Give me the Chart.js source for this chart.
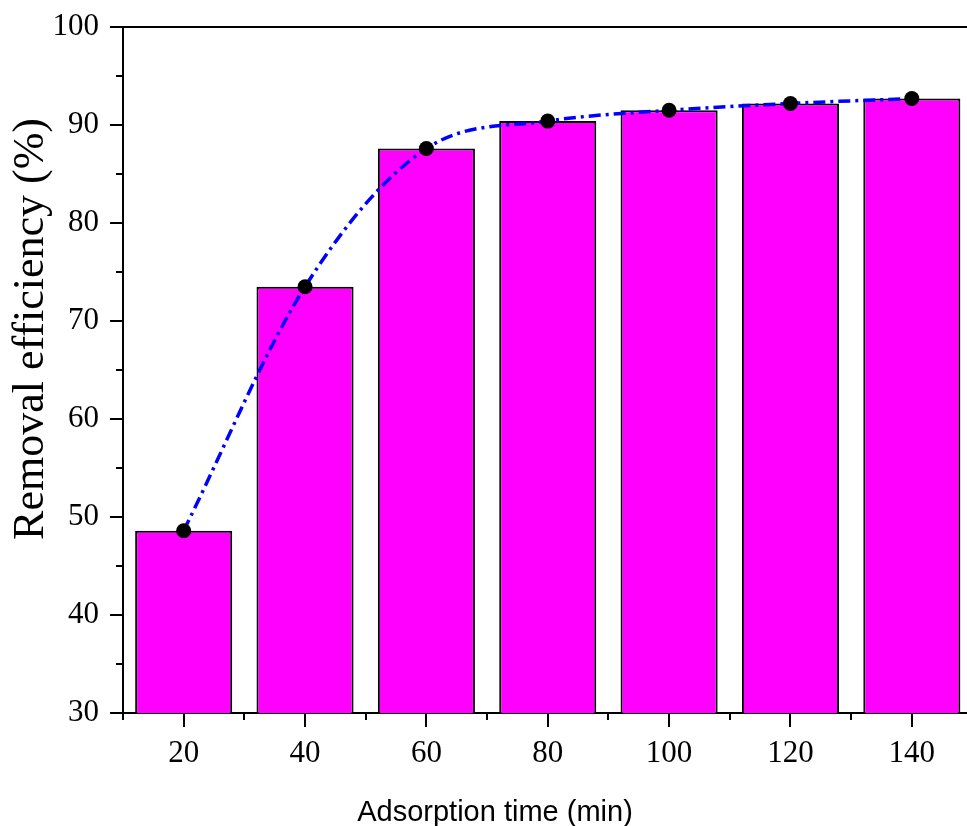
<!DOCTYPE html>
<html>
<head>
<meta charset="utf-8">
<script src="https://cdn.jsdelivr.net/npm/chart.js@4/dist/chart.umd.min.js"></script>
<style>
  html, body { margin: 0; padding: 0; background: #fff; overflow: hidden; }
  #wrap { width: 967px; height: 826px; overflow: hidden; }
</style>
</head>
<body>
<div id="wrap"><canvas id="grafico" width="980" height="826"></canvas></div>
<script>
// tiempos de adsorcion (min) y eficiencia de remocion (%)
const tiempos = [20, 40, 60, 80, 100, 120, 140];
const eficiencia = [48.6, 73.5, 87.6, 90.4, 91.5, 92.2, 92.7];
const yTicks = [30, 40, 50, 60, 70, 80, 90, 100];
const tituloX = 'Adsorption time (min)';
const tituloY = 'Removal efficiency (%)';

const puntos = tiempos.map((t, i) => ({ x: t, y: eficiencia[i] }));

// marcas mayores y menores hacia afuera, marco superior y titulos
const marcas = {
    id: 'marcas',
    afterDraw(chart) {
        const { ctx, chartArea, scales } = chart;
        ctx.save();
        ctx.strokeStyle = '#000';
        ctx.lineWidth = 2;
        ctx.beginPath();
        for (let v = 30; v <= 100; v += 5) {
            const y = Math.round(scales.y.getPixelForValue(v));
            const len = v % 10 === 0 ? 13 : 7;
            ctx.moveTo(chartArea.left, y);
            ctx.lineTo(chartArea.left - len, y);
        }
        for (let v = 10; v <= 150; v += 10) {
            const x = Math.round(scales.x.getPixelForValue(v));
            const len = v % 20 === 0 ? 14 : 7;
            ctx.moveTo(x, chartArea.bottom);
            ctx.lineTo(x, chartArea.bottom + len);
        }
        ctx.moveTo(chartArea.left - 1, chartArea.top);
        ctx.lineTo(chartArea.right, chartArea.top);
        ctx.stroke();

        // titulos de ejes
        ctx.fillStyle = '#000';
        ctx.textAlign = 'center';
        ctx.textBaseline = 'alphabetic';
        ctx.font = '29px "Liberation Sans"';
        ctx.fillText(tituloX, 495, 821);
        ctx.translate(43, 329);
        ctx.rotate(-Math.PI / 2);
        ctx.font = '44px "Liberation Serif"';
        ctx.fillText(tituloY, 0, 0);
        ctx.restore();
    }
};

const ctx = document.getElementById('grafico').getContext('2d');
new Chart(ctx, {
    type: 'bar',
    data: {
        datasets: [{
            type: 'line',
            label: 'Ajuste',
            data: puntos,
            borderColor: '#0000ff',
            borderWidth: 3.5,
            borderDash: [12, 5, 3, 5],
            cubicInterpolationMode: 'monotone',
            pointRadius: 7.5,
            pointBackgroundColor: '#000',
            pointBorderColor: '#000',
            pointBorderWidth: 0,
            order: 0
        }, {
            label: 'Eficiencia',
            data: puntos,
            backgroundColor: '#ff00ff',
            borderColor: '#000',
            borderWidth: 2,
            categoryPercentage: 0.8,
            barPercentage: 1,
            order: 1
        }]
    },
    options: {
        responsive: false,
        animation: false,
        devicePixelRatio: 1,
        layout: { padding: { left: 5, top: 27, right: 5, bottom: 0 } },
        plugins: {
            legend: { display: false },
            tooltip: { enabled: false }
        },
        scales: {
            x: {
                type: 'linear',
                offset: false,
                min: 10,
                max: 150,
                afterBuildTicks: s => { s.ticks = tiempos.map(v => ({ value: v })); },
                afterFit: s => { s.height = 113; s.paddingLeft = 0; s.paddingRight = 0; },
                grid: { display: false, drawTicks: false, offset: false },
                border: { color: '#000', width: 2 },
                ticks: {
                    color: '#000',
                    padding: 22,
                    maxRotation: 0,
                    font: { family: 'Liberation Serif', size: 31 }
                }
            },
            y: {
                min: 30,
                max: 100,
                afterBuildTicks: s => { s.ticks = yTicks.map(v => ({ value: v })); },
                afterFit: s => { s.width = 118; s.paddingTop = 0; s.paddingBottom = 0; },
                grid: { display: false, drawTicks: false },
                border: { color: '#000', width: 2 },
                ticks: {
                    color: '#000',
                    padding: 24,
                    font: { family: 'Liberation Serif', size: 31 }
                }
            }
        }
    },
    plugins: [marcas]
});
</script>
</body>
</html>
